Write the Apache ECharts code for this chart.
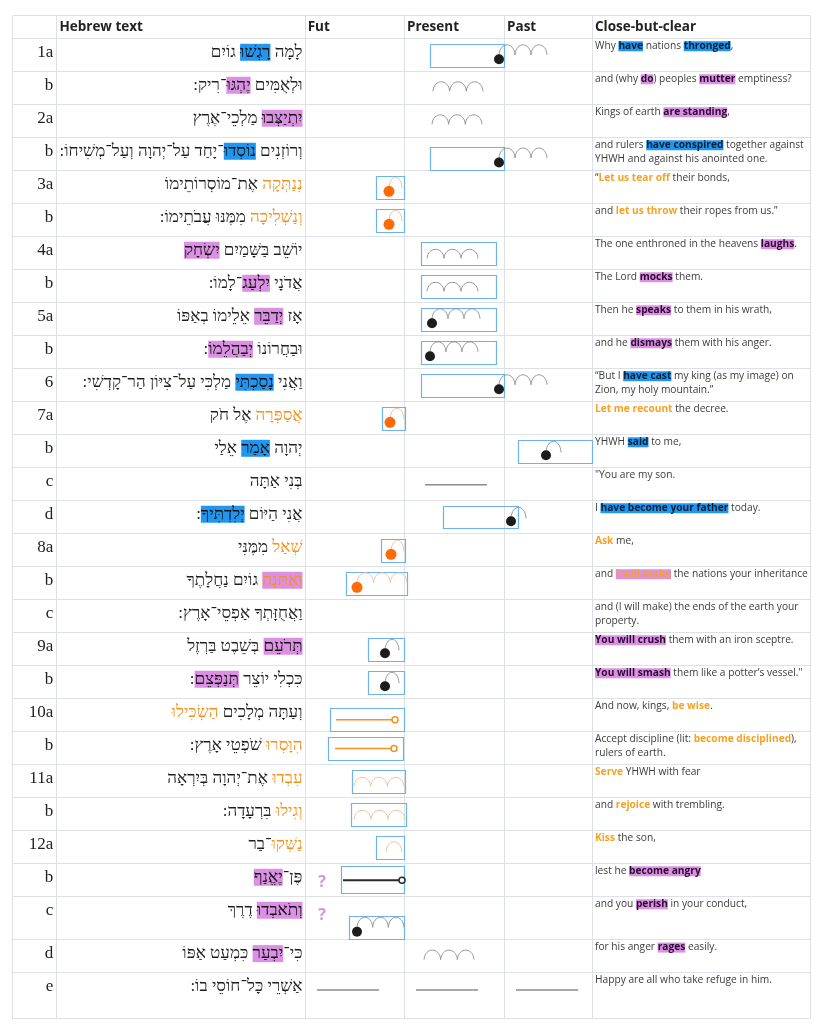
<!DOCTYPE html>
<html><head><meta charset="utf-8">
<script src="https://cdn.jsdelivr.net/npm/echarts@6/dist/echarts.min.js"></script>
<style>html,body{margin:0;padding:0;background:#fff}#c{width:825px;height:1034px}</style>
</head><body><div id="c"></div>
<script>
// ---------------- data ----------------
const headers = ['Hebrew text', 'Fut', 'Present', 'Past', 'Close-but-clear'];
const rowLabels = ['1a','b','2a','b','3a','b','4a','b','5a','b','6','7a','b','c','d','8a','b','c','9a','b','10a','b','11a','b','12a','b','c','d','e'];
// {b:..} blue verb, {p:..} pink verb, {o:..} orange (volitive), {q:..} pink + orange
const hebrewLines = [
  'לָמָּה {b:רָגְשׁוּ} גוֹיִם',
  'וּלְאֻמִּים {p:יֶהְגּוּ}־רִיק׃',
  '{p:יִתְיַצְּבוּ} מַלְכֵי־אֶרֶץ',
  'וְרוֹזְנִים {b:נוֹסְדוּ}־יָחַד עַל־יְהוָה וְעַל־מְשִׁיחוֹ׃',
  '{o:נְנַתְּקָה} אֶת־מוֹסְרוֹתֵימוֹ',
  '{o:וְנַשְׁלִיכָה} מִמֶּנּוּ עֲבֹתֵימוֹ׃',
  'יוֹשֵׁב בַּשָּׁמַיִם {p:יִשְׂחָק}',
  'אֲדֹנָי {p:יִלְעַג}־לָמוֹ׃',
  'אָז {p:יְדַבֵּר} אֵלֵימוֹ בְאַפּוֹ',
  'וּבַחֲרוֹנוֹ {p:יְבַהֲלֵמוֹ}׃',
  'וַאֲנִי {b:נָסַכְתִּי} מַלְכִּי עַל־צִיּוֹן הַר־קָדְשִׁי׃',
  '{o:אֲסַפְּרָה} אֶל חֹק',
  'יְהוָה {b:אָמַר} אֵלַי',
  'בְּנִי אַתָּה',
  'אֲנִי הַיּוֹם {b:יְלִדְתִּיךָ}׃',
  '{o:שְׁאַל} מִמֶּנִּי',
  '{q:וְאֶתְּנָה} גוֹיִם נַחֲלָתֶךָ',
  'וַאֲחֻזָּתְךָ אַפְסֵי־אָרֶץ׃',
  '{p:תְּרֹעֵם} בְּשֵׁבֶט בַּרְזֶל',
  'כִּכְלִי יוֹצֵר {p:תְּנַפְּצֵם}׃',
  'וְעַתָּה מְלָכִים {o:הַשְׂכִּילוּ}',
  '{o:הִוָּסְרוּ} שֹׁפְטֵי אָרֶץ׃',
  '{o:עִבְדוּ} אֶת־יְהוָה בְּיִרְאָה',
  '{o:וְגִילוּ} בִּרְעָדָה׃',
  '{o:נַשְּׁקוּ}־בַר',
  'פֶּן־{p:יֶאֱנַף}',
  '{p:וְתֹאבְדוּ} דֶרֶךְ',
  'כִּי־{p:יִבְעַר} כִּמְעַט אַפּוֹ',
  'אַשְׁרֵי כָּל־חוֹסֵי בוֹ׃'
];
const englishLines = [
  'Why {b:have} nations {b:thronged},',
  'and (why {p:do}) peoples {p:mutter} emptiness?',
  'Kings of earth {p:are standing},',
  'and rulers {b:have conspired} together against\nYHWH and against his anointed one.',
  '“{o:Let us tear off} their bonds,',
  'and {o:let us throw} their ropes from us.”',
  'The one enthroned in the heavens {p:laughs}.',
  'The Lord {p:mocks} them.',
  'Then he {p:speaks} to them in his wrath,',
  'and he {p:dismays} them with his anger.',
  '“But I {b:have cast} my king (as my image) on\nZion, my holy mountain.”',
  '{o:Let me recount} the decree.',
  'YHWH {b:said} to me,',
  '"You are my son.',
  'I {b:have become your father} today.',
  '{o:Ask} me,',
  'and {q:I will make} the nations your inheritance',
  'and (I will make) the ends of the earth your\nproperty.',
  '{p:You will crush} them with an iron sceptre.',
  '{p:You will smash} them like a potter’s vessel."',
  'And now, kings, {o:be wise}.',
  'Accept discipline (lit: {o:become disciplined}),\nrulers of earth.',
  '{o:Serve} YHWH with fear',
  'and {o:rejoice} with trembling.',
  '{o:Kiss} the son,',
  'lest he {p:become angry}',
  'and you {p:perish} in your conduct,',
  'for his anger {p:rages} easily.',
  'Happy are all who take refuge in him.'
];
// time marks per row, x values on the Fut / Present / Past scale
const timeMarks = [
  [{t:'box',from:430,to:504},{t:'arcs',from:499,to:547,n:3},{t:'dot',at:499,c:'ink'}],
  [{t:'arcs',from:433,to:483,n:3}],
  [{t:'arcs',from:432,to:482,n:3}],
  [{t:'box',from:430,to:504,v:'low'},{t:'arcs',from:499,to:547,n:3},{t:'dot',at:499,c:'ink'}],
  [{t:'box',from:376,to:404},{t:'arcs',from:389,to:402,n:1,c:'peach'},{t:'dot',at:389,c:'orange'}],
  [{t:'box',from:376,to:404},{t:'arcs',from:389,to:402,n:1,c:'peach'},{t:'dot',at:389,c:'orange'}],
  [{t:'box',from:421,to:496},{t:'arcs',from:427,to:478,n:3}],
  [{t:'box',from:421,to:496},{t:'arcs',from:427,to:478,n:3}],
  [{t:'box',from:421,to:496},{t:'arcs',from:432,to:480,n:3},{t:'dot',at:432,c:'ink'}],
  [{t:'box',from:421,to:496},{t:'arcs',from:430,to:478,n:3},{t:'dot',at:430,c:'ink'}],
  [{t:'box',from:421,to:504},{t:'arcs',from:499,to:547,n:3},{t:'dot',at:499,c:'ink'}],
  [{t:'box',from:382,to:405},{t:'arcs',from:390,to:404,n:1,c:'peach'},{t:'dot',at:390,c:'orange'}],
  [{t:'box',from:518,to:592},{t:'arcs',from:546,to:561,n:1},{t:'dot',at:546,c:'ink'}],
  [{t:'line',from:425,to:487}],
  [{t:'box',from:443,to:518},{t:'arcs',from:511,to:526,n:1},{t:'dot',at:511,c:'ink'}],
  [{t:'box',from:381,to:405},{t:'arcs',from:391,to:404,n:1,c:'peach'},{t:'dot',at:391,c:'orange'}],
  [{t:'box',from:346,to:407},{t:'arcs',from:357,to:407,n:3,c:'peach'},{t:'dot',at:357,c:'orange'}],
  [],
  [{t:'box',from:368,to:404},{t:'arcs',from:385,to:399,n:1},{t:'dot',at:385,c:'ink'}],
  [{t:'box',from:368,to:404},{t:'arcs',from:385,to:399,n:1},{t:'dot',at:385,c:'ink'}],
  [{t:'box',from:330,to:404,v:'low'},{t:'endLine',from:336,to:395,c:'orange'}],
  [{t:'box',from:328,to:403},{t:'endLine',from:335,to:394,c:'orange'}],
  [{t:'box',from:352,to:405},{t:'arcs',from:354,to:404,n:3,c:'peach'}],
  [{t:'box',from:351,to:406},{t:'arcs',from:354,to:405,n:3,c:'peach'}],
  [{t:'box',from:376,to:404},{t:'arcs',from:386,to:402,n:1,c:'peach'}],
  [{t:'query',at:322},{t:'box',from:341,to:404,v:'tall'},{t:'endLine',from:343,to:402,c:'ink'}],
  [{t:'query',at:322},{t:'box',from:349,to:404,v:'low'},{t:'arcs',from:357,to:404,n:3},{t:'dot',at:357,c:'ink'}],
  [{t:'arcs',from:424,to:474,n:3}],
  [{t:'line',from:317,to:379},{t:'line',from:416,to:478},{t:'line',from:516,to:578}]
];

// ---------------- layout / styles ----------------
const COLS = [12.7, 56.7, 305, 404.3, 504.3, 592.3, 810];
const TABLE_TOP = 15.7, HEADER_H = 22.6, ROW_H = 33;
const TALL_ROWS = {26: 43.3, 28: 46};
const rowTop = [], rowBot = [];
(function(){ let y = TABLE_TOP + HEADER_H; for (let i = 0; i < rowLabels.length; i++) { rowTop.push(y); y += (TALL_ROWS[i] || ROW_H); rowBot.push(y); } })();

const C = { blue:'#2196f0', pink:'#dc90e4', orange:'#f2921f', engOrange:'#f5a226', ink:'#1c1c1c', dotOrange:'#ff6a08',
  grey:'#8c8c8c', peach:'#f2b896', box:'#6db3e9', rule:'#dde1e6', query:'#cf96dc' };
const HEB_FONT = '"Liberation Serif", "DejaVu Sans", serif';
const ENG_FONT = '"Open Sans", "Noto Sans", sans-serif';
const HEB_SIZE = 17, ENG_SIZE = 10.2, ENG_LH = 14;
const hebBase = {fontSize: HEB_SIZE, fontFamily: HEB_FONT, fill: '#1e1e1e', lineHeight: 20};
const HEB_RICH = {
  hn: hebBase,
  hb: Object.assign({}, hebBase, {backgroundColor: C.blue, fill:'#111'}),
  hp: Object.assign({}, hebBase, {backgroundColor: C.pink, fill:'#111'}),
  ho: Object.assign({}, hebBase, {fill: C.orange}),
  hq: Object.assign({}, hebBase, {backgroundColor: C.pink, fill: C.orange})
};
const engBase = {fontSize: ENG_SIZE, fontFamily: ENG_FONT, fill: '#3b3b3b', lineHeight: ENG_LH};
const ENG_RICH = {
  en: engBase,
  eb: Object.assign({}, engBase, {backgroundColor: C.blue, fill:'#0c2036', fontWeight:'bold'}),
  ep: Object.assign({}, engBase, {backgroundColor: C.pink, fill:'#2a0c30', fontWeight:'bold'}),
  eo: Object.assign({}, engBase, {fill: C.engOrange, fontWeight:'bold'}),
  eq: Object.assign({}, engBase, {backgroundColor: C.pink, fill: C.engOrange, fontWeight:'bold'})
};

function parseMarkup(line) {
  const out = []; const re = /\{([bpoq]):([^}]*)\}/g; let last = 0, m;
  while ((m = re.exec(line))) { if (m.index > last) out.push(['n', line.slice(last, m.index)]); out.push([m[1], m[2]]); last = re.lastIndex; }
  if (last < line.length) out.push(['n', line.slice(last)]);
  return out;
}
function hebRich(line) {
  const toks = [];
  parseMarkup(line).forEach(([s, t]) => {
    if (s === 'n') t.split(/( )/).forEach(p => { if (p) toks.push([s, p]); });
    else toks.push([s, t]);
  });
  // sof pasuq drawn as a colon kept on the right-to-left side
  return toks.reverse().map(([s, t]) => '{h' + s + '|' + t.replace(/\u05C3/g, '\u200F:\u200F') + '}').join('');
}
function engRich(line) {
  const parts = [];
  parseMarkup(line).forEach(([s, t]) => {
    t.split('\n').forEach((seg, k) => { if (k > 0) parts.push('\n'); if (seg) parts.push('{e' + s + '|' + seg + '}'); });
  });
  return parts.join('');
}
const r5 = v => Math.round(v - 0.5) + 0.5;

// ---------------- render ----------------
function renderRules(params, api) {
  const children = [];
  const top = TABLE_TOP, bottom = rowBot[rowBot.length - 1];
  const ys = [top, TABLE_TOP + HEADER_H].concat(rowBot);
  ys.forEach(y => {
    const a = api.coord([COLS[0], y]), b = api.coord([COLS[COLS.length - 1], y]);
    children.push({type:'line', shape:{x1:a[0], y1:r5(a[1]), x2:b[0], y2:r5(b[1])}, style:{stroke:C.rule, lineWidth:1}});
  });
  COLS.forEach(x => {
    const a = api.coord([x, top]), b = api.coord([x, bottom]);
    children.push({type:'line', shape:{x1:r5(a[0]), y1:a[1], x2:r5(b[0]), y2:b[1]}, style:{stroke:C.rule, lineWidth:1}});
  });
  return {type:'group', children};
}
function renderHeader(params, api) {
  const i = api.value(0);
  const p = api.coord([COLS[i + 1] + 2.7, TABLE_TOP + HEADER_H / 2 + 0.5]);
  return {type:'text', style:{x:p[0], y:p[1], text:headers[i], fontSize:13.5, fontWeight:'bold', fontFamily:ENG_FONT, fill:'#222', align:'left', verticalAlign:'middle'}};
}
function renderText(params, api) {
  const i = api.value(0), T = rowTop[i];
  const lp = api.coord([COLS[1] - 3.5, T + 14]);
  const hp = api.coord([COLS[2] - 2.5, T + 14]);
  const ep = api.coord([COLS[5] + 2.7, T + 1]);
  return {type:'group', children:[
    {type:'text', style:{x:lp[0], y:lp[1], text:rowLabels[i], fontSize:17, fontFamily:HEB_FONT, fill:'#222', align:'right', verticalAlign:'middle'}},
    {type:'text', style:{x:hp[0], y:hp[1], text:hebRich(hebrewLines[i]), rich:HEB_RICH, fontSize:HEB_SIZE, fontFamily:HEB_FONT, fill:'#1e1e1e', align:'right', verticalAlign:'middle'}},
    {type:'text', style:{x:ep[0], y:ep[1], text:engRich(englishLines[i]), rich:ENG_RICH, fontSize:ENG_SIZE, fontFamily:ENG_FONT, fill:'#3b3b3b', align:'left', verticalAlign:'top'}}
  ]};
}
function renderMarks(params, api) {
  const i = api.value(0), T = rowTop[i], B = rowBot[i];
  const marks = timeMarks[i];
  const children = [];
  const P = (x, y) => api.coord([x, y]);
  const box = marks.find(m => m.t === 'box');
  let bT = null, bB = null;
  if (box) {
    if (box.v === 'low') { bB = B - 0.3; bT = bB - 22.5; }
    else if (box.v === 'tall') { bT = T + 3.5; bB = B - 2.5; }
    else { bT = T + 6; bB = T + 28.5; }
  }
  const dot = marks.find(m => m.t === 'dot');
  const dotY = box ? bB - 7.5 : T + 20;
  marks.forEach(m => {
    if (m.t === 'box') {
      const a = P(m.from, bT), b = P(m.to, bB);
      children.push({type:'rect', shape:{x:r5(a[0]), y:r5(a[1]), width:Math.round(b[0]-a[0]), height:Math.round(b[1]-a[1])}, style:{stroke:C.box, fill:null, lineWidth:1.2}});
    } else if (m.t === 'dot') {
      const a = P(m.at, dotY);
      children.push({type:'circle', shape:{cx:a[0], cy:a[1], r: m.c === 'orange' ? 5.5 : 5}, style:{fill: m.c === 'orange' ? C.dotOrange : C.ink}});
    } else if (m.t === 'arcs') {
      let base, h;
      if (dot) { base = dotY - (m.n === 1 ? 3 : 4.5); h = m.n === 1 ? 11 : 10; }
      else if (box) { base = bB - 6.5; h = m.n === 1 ? 10.5 : 9; }
      else { base = T + 20; h = 9.5; }
      const w = (m.to - m.from) / m.n;
      let d = '';
      for (let k = 0; k < m.n; k++) {
        const x0 = m.from + k * w, x1 = x0 + w;
        const p0 = P(x0, base), c1 = P(x0 + w * 0.06, base - h * 1.33), c2 = P(x1 - w * 0.06, base - h * 1.33), p1 = P(x1, base);
        d += (k === 0 ? 'M' + p0[0] + ' ' + p0[1] : '') + ' C' + c1[0] + ' ' + c1[1] + ' ' + c2[0] + ' ' + c2[1] + ' ' + p1[0] + ' ' + p1[1];
      }
      children.push({type:'path', shape:{pathData:d}, style:{stroke: m.c === 'peach' ? C.peach : C.grey, fill:null, lineWidth:0.9}});
    } else if (m.t === 'line') {
      const y = box ? (bT + bB) / 2 : T + 17.5;
      const a = P(m.from, y), b = P(m.to, y);
      children.push({type:'line', shape:{x1:a[0], y1:a[1], x2:b[0], y2:b[1]}, style:{stroke:C.grey, lineWidth:1.5}});
    } else if (m.t === 'endLine') {
      const y = (bT + bB) / 2;
      const col = m.c === 'orange' ? C.orange : '#2a2a2a';
      const a = P(m.from, y), b = P(m.to - 3, y), c = P(m.to, y);
      children.push({type:'line', shape:{x1:a[0], y1:a[1], x2:b[0], y2:b[1]}, style:{stroke:col, lineWidth: m.c === 'orange' ? 1.6 : 2}});
      children.push({type:'circle', shape:{cx:c[0], cy:c[1], r:3}, style:{stroke:col, fill:'#fff', lineWidth:1.5}});
    } else if (m.t === 'query') {
      const a = P(m.at, T + 19);
      children.push({type:'text', style:{x:a[0], y:a[1], text:'?', fontSize:16, fontWeight:'bold', fontFamily:ENG_FONT, fill:C.query, align:'center', verticalAlign:'middle'}});
    }
  });
  return {type:'group', children};
}

const chart = echarts.init(document.getElementById('c'), null, {renderer:'canvas'});
chart.setOption({
  animation: false,
  backgroundColor: '#fff',
  grid: {left:0, right:0, top:0, bottom:0},
  xAxis: {type:'value', min:0, max:825, show:false},
  yAxis: {type:'value', min:0, max:1034, inverse:true, show:false},
  series: [
    {type:'custom', name:'rules', renderItem: renderRules, data:[[0]], silent:true, z:1},
    {type:'custom', name:'header', renderItem: renderHeader, data: headers.map((h, i) => [i]), silent:true, z:2},
    {type:'custom', name:'text', renderItem: renderText, data: rowLabels.map((r, i) => [i]), silent:true, z:3},
    {type:'custom', name:'marks', renderItem: renderMarks, data: rowLabels.map((r, i) => [i]), silent:true, z:4}
  ]
});
</script></body></html>
